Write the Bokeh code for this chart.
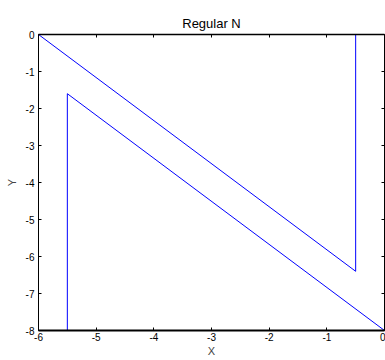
from bokeh.plotting import figure
from bokeh.models import Range1d, LinearAxis, FixedTicker, PrintfTickFormatter, CustomJSTickFormatter
from bokeh.embed import file_html
from bokeh.resources import INLINE

# N outline path
xs = [-6, -6, -0.5, -0.5, 0, 0, -5.5, -5.5, -6]
ys = [-8, 0, -6.4, 0, 0, -8, -1.6, -8, -8]

x_ticks = [-6, -5, -4, -3, -2, -1, 0]
y_ticks = [-8, -7, -6, -5, -4, -3, -2, -1, 0]
title_text = "Regular N"
FONT = "Liberation Sans"

p = figure(width=385, height=360, output_backend="svg", toolbar_location=None,
           x_range=Range1d(-6, 0), y_range=Range1d(-8, 0),
           min_border_left=38, min_border_right=1, min_border_top=34, min_border_bottom=30,
           title=title_text)
p.title.align = "center"
p.title.text_font = FONT
p.title.text_font_size = "13px"
p.title.text_font_style = "normal"
p.title.text_color = "#000000"
p.title.standoff = 8
p.title.offset = 0

p.xgrid.visible = False
p.ygrid.visible = False
p.outline_line_color = None
p.background_fill_color = "white"
p.border_fill_color = "white"

xb = p.xaxis[0]
yl = p.yaxis[0]
xb.ticker = FixedTicker(ticks=x_ticks)
yl.ticker = FixedTicker(ticks=y_ticks)
for ax, w in ((xb, 2), (yl, 1)):
    ax.formatter = PrintfTickFormatter(format="%d")
    ax.axis_line_color = "black"
    ax.axis_line_width = w
    ax.major_tick_in = 3
    ax.major_tick_out = 0
    ax.minor_tick_in = 0
    ax.minor_tick_out = 0
    ax.major_label_text_font = FONT
    ax.major_label_text_font_size = "10px"
    ax.major_label_text_color = "black"
    ax.major_label_standoff = 2
    ax.axis_label_text_font = FONT
    ax.axis_label_text_font_size = "11px"
    ax.axis_label_text_font_style = "normal"
    ax.axis_label_standoff = 1
xb.axis_label = "X"
yl.axis_label = "Y"
yl.major_label_standoff = 4
yl.axis_label_standoff = 5

blank = CustomJSTickFormatter(code="return '';")
top = LinearAxis(ticker=FixedTicker(ticks=x_ticks), formatter=blank)
right = LinearAxis(ticker=FixedTicker(ticks=y_ticks), formatter=blank)
for ax, w in ((top, 1.5), (right, 1)):
    ax.axis_line_color = "black"
    ax.axis_line_width = w
    ax.major_tick_in = 3
    ax.major_tick_out = 0
    ax.minor_tick_in = 0
    ax.minor_tick_out = 0
    ax.major_label_standoff = 0
p.add_layout(top, "above")
p.add_layout(right, "right")

p.line(xs, ys, line_color="#0000ff", line_width=1)

open("out.html", "w").write(file_html(p, INLINE))
